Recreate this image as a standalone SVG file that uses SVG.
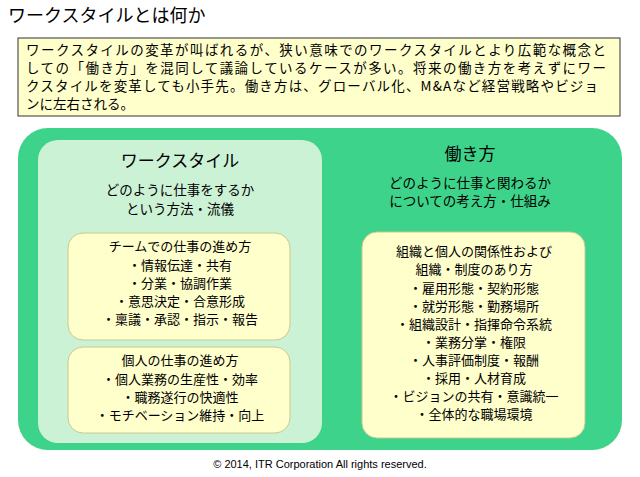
<svg xmlns="http://www.w3.org/2000/svg" width="640" height="477" viewBox="0 0 640 477">
<style>
text{font-family:"Noto Sans CJK JP","Noto Sans",sans-serif;fill:#000}
.b{font-size:13px}
.i{font-size:13.5px}
.c{text-anchor:middle}
.y{fill:#ffffcc;stroke:#c8c890;stroke-width:1}
</style>
<rect width="640" height="477" fill="#fff"/>
<text x="8" y="22" font-size="18">ワークスタイルとは何か</text>
<g id="intro">
<rect x="18" y="38" width="602" height="78" fill="#ffffcc" stroke="#333" stroke-width="1"/>
<text class="i" x="26" y="55" textLength="580" lengthAdjust="spacing">ワークスタイルの変革が叫ばれるが、狭い意味でのワークスタイルとより広範な概念と</text>
<text class="i" x="26" y="73" textLength="580" lengthAdjust="spacing">しての「働き方」を混同して議論しているケースが多い。将来の働き方を考えずにワー</text>
<text class="i" x="26" y="91" textLength="572" lengthAdjust="spacing">クスタイルを変革しても小手先。働き方は、グローバル化、M&amp;Aなど経営戦略やビジョ</text>
<text class="i" x="26" y="109">ンに左右される。</text>
</g>
<g id="outer"><rect x="18" y="128" width="604" height="322" rx="30" fill="#3dd38a"/></g>
<g id="workstyle">
<rect x="38" y="140" width="284" height="303" rx="20" fill="#ccf2d6"/>
<text class="c" x="180" y="167" font-size="17">ワークスタイル</text>
<text class="c i" x="180" y="195">どのように仕事をするか</text>
<text class="c i" x="180" y="214">という方法・流儀</text>
</g>
<g id="team">
<rect class="y" x="68" y="233" width="222" height="107" rx="15"/>
<g class="c b">
<text x="180" y="251">チームでの仕事の進め方</text>
<text x="180" y="270">・情報伝達・共有</text>
<text x="180" y="288">・分業・協調作業</text>
<text x="180" y="306">・意思決定・合意形成</text>
<text x="180" y="324">・稟議・承認・指示・報告</text>
</g></g>
<g id="personal">
<rect class="y" x="68" y="347" width="222" height="86" rx="15"/>
<g class="c b">
<text x="180" y="365">個人の仕事の進め方</text>
<text x="180" y="384">・個人業務の生産性・効率</text>
<text x="180" y="402">・職務遂行の快適性</text>
<text x="180" y="420">・モチベーション維持・向上</text>
</g></g>
<g id="hatarakikata">
<text class="c" x="470" y="160" font-size="17">働き方</text>
<text class="c i" x="470" y="188">どのように仕事と関わるか</text>
<text class="c i" x="470" y="206">についての考え方・仕組み</text>
<rect class="y" x="362" y="232" width="223" height="206" rx="15"/>
<g class="c b">
<text x="474" y="256">組織と個人の関係性および</text>
<text x="474" y="274">組織・制度のあり方</text>
<text x="474" y="293">・雇用形態・契約形態</text>
<text x="474" y="311">・就労形態・勤務場所</text>
<text x="474" y="329">・組織設計・指揮命令系統</text>
<text x="474" y="347">・業務分掌・権限</text>
<text x="474" y="365">・人事評価制度・報酬</text>
<text x="474" y="383">・採用・人材育成</text>
<text x="474" y="401">・ビジョンの共有・意識統一</text>
<text x="474" y="419">・全体的な職場環境</text>
</g></g>
<g id="connectors"/>
<text class="c" x="320" y="468" font-size="11" style="font-family:'Liberation Sans',sans-serif">© 2014, ITR Corporation  All rights reserved.</text>
</svg>
